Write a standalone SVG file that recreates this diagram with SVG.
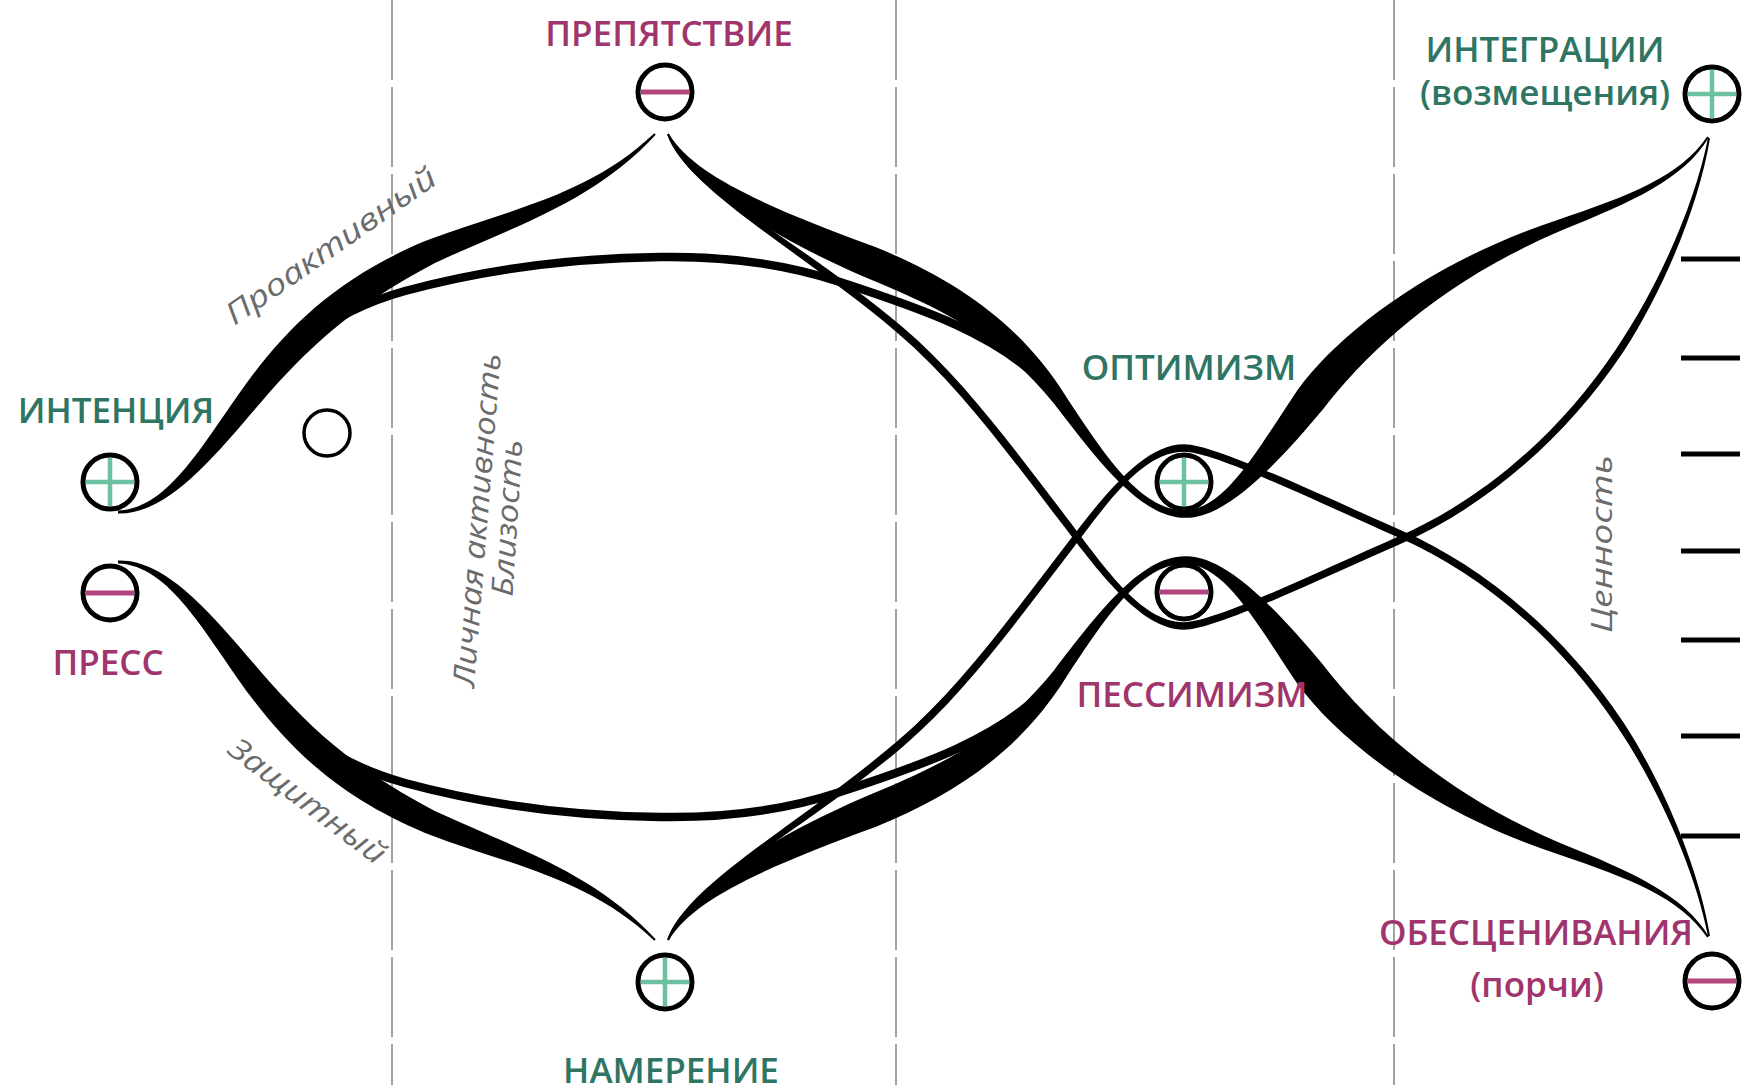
<svg xmlns="http://www.w3.org/2000/svg" width="1742" height="1090" viewBox="0 0 1742 1090">
<style>
 .dash{stroke:#8a8a8a;stroke-width:1.6;stroke-dasharray:80 7;fill:none}
 .tick{stroke:#000;stroke-width:5}
 .blade{fill:#000}
 .arc{fill:none;stroke:#000;stroke-width:8.5;stroke-linecap:round}
 .ring{fill:#fff;stroke:#000;stroke-width:5}
 .ring-s{fill:#fff;stroke:#000;stroke-width:3.5}
 .plus{stroke:#6cc2a0;stroke-width:4.5;fill:none}
 .minus{stroke:#b3457d;stroke-width:5;fill:none}
 .lbl{font-family:"Open Sans","DejaVu Sans",sans-serif;font-weight:600;font-size:35px;text-anchor:middle}
 .g{fill:#2f7563}
 .m{fill:#a0346c}
 .note{font-family:"Open Sans","DejaVu Sans",sans-serif;font-style:italic;font-size:30px;fill:#6b6b6b;text-anchor:middle;dominant-baseline:central}
</style>
<defs>
 <g id="sym-plus"><circle class="ring" r="27"/><path class="plus" d="M-24,0H24M0,-24V24"/></g>
 <g id="sym-minus"><circle class="ring" r="27"/><path class="minus" d="M-24,0H24"/></g>
</defs>
<rect width="1742" height="1090" fill="#fff"/>

<g id="guides">
 <line class="dash" x1="392" y1="0" x2="392" y2="1085"/>
 <line class="dash" x1="896" y1="0" x2="896" y2="1085"/>
 <line class="dash" x1="1394" y1="0" x2="1394" y2="1085"/>
</g>

<g id="scale-ticks">
 <line class="tick" x1="1681" y1="259" x2="1740" y2="259"/>
 <line class="tick" x1="1681" y1="358" x2="1740" y2="358"/>
 <line class="tick" x1="1681" y1="454" x2="1740" y2="454"/>
 <line class="tick" x1="1681" y1="551" x2="1740" y2="551"/>
 <line class="tick" x1="1681" y1="640" x2="1740" y2="640"/>
 <line class="tick" x1="1681" y1="736" x2="1740" y2="736"/>
 <line class="tick" x1="1681" y1="836" x2="1740" y2="836"/>
</g>

<g id="connectors">
 <g id="upper-half">
  <path id="c-intention-obstacle" class="blade" d="M118,510.5 C170,509 205,439.4 250.7,377.5 C293.4,320.5 343.1,275.6 425.1,241.1 C506.5,209.7 587.1,197.2 654.3,133.3 L655.7,134.7 C592.9,202.8 513.5,226.3 434.9,262.9 C356.9,304.4 316.6,339.5 269.3,392.5 C219,450.6 170,515 118,513.5 Z"/>
  <path id="c-fish-upper" class="arc" d="M240,410 C278,362 318,315 405,291 C490,268 580,258 660,257 C720,256 780,262 840,282 C920,308 1000,335 1049,388"/>
  <path id="c-obstacle-optimism-integration" class="blade" d="M668.9,133.6 C692.6,176.1 774.8,209.9 876,247.2 C956.1,280.2 1019.8,323 1065.7,395.9 C1103.7,453.4 1140,510.2 1185,510.2 C1225,509 1255.4,452.8 1297.2,390.4 C1341.4,329.8 1436.1,259.7 1558.1,219.8 C1628.8,195.7 1680.1,176.8 1707.2,136.5 L1708.8,137.5 C1683.9,179.2 1631.2,202.3 1561.9,230.2 C1443.9,280.3 1368.6,350.2 1322.8,409.6 C1274.6,467.2 1225,519 1185,517.8 C1140,517.8 1096.3,458.6 1054.3,404.1 C1000.2,337 943.9,309.8 864,276.8 C765.2,234.1 683.4,179.9 667.1,134.4 Z"/>
  <path id="c-obstacle-pessimism-integration" class="blade" d="M668.7,133.7 C692.3,189.1 802.5,242.1 902.5,327.1 C962.5,378.1 1013,447.7 1063,512.7 C1103,564.7 1140,622.2 1184,622.2 C1215,622.2 1318.5,571.5 1398.5,536.5 C1478.5,501.5 1556.8,437.9 1616.8,347.9 C1657.3,288.2 1695,204.6 1708,137.8 L1710,138.2 C1699,205.4 1662.7,291.8 1623.2,352.1 C1563.2,442.1 1481.5,508.5 1401.5,543.5 C1321.5,578.5 1215,629.8 1184,629.8 C1140,629.8 1097,569.3 1057,517.3 C1007,452.3 957.5,383.9 897.5,332.9 C797.5,247.9 687.7,190.9 667.3,134.3 Z"/>
 </g>
 <use id="lower-half" href="#upper-half" transform="matrix(1 0 0 -1 0 1074)"/>
</g>

<g id="node-intenciya"><use href="#sym-plus" x="110" y="482"/><text class="lbl g" x="116" y="423">ИНТЕНЦИЯ</text></g>
<g id="node-press"><use href="#sym-minus" x="110" y="593"/><text class="lbl m" x="108" y="675">ПРЕСС</text></g>
<g id="node-empty"><circle class="ring-s" cx="327" cy="433" r="23"/></g>
<g id="node-prepyatstvie"><use href="#sym-minus" x="665" y="92"/><text class="lbl m" x="669" y="46">ПРЕПЯТСТВИЕ</text></g>
<g id="node-namerenie"><use href="#sym-plus" x="665" y="982"/><text class="lbl g" x="671" y="1083">НАМЕРЕНИЕ</text></g>
<g id="node-optimizm"><use href="#sym-plus" x="1184" y="482"/><text class="lbl g" x="1189" y="380">ОПТИМИЗМ</text></g>
<g id="node-pessimizm"><use href="#sym-minus" x="1184" y="592"/><text class="lbl m" x="1192" y="707">ПЕССИМИЗМ</text></g>
<g id="node-integracii"><use href="#sym-plus" x="1712" y="94"/><text class="lbl g" x="1545" y="62">ИНТЕГРАЦИИ</text><text class="lbl g" x="1545" y="105">(возмещения)</text></g>
<g id="node-obescenivaniya"><use href="#sym-minus" x="1712" y="981"/><text class="lbl m" x="1536" y="945">ОБЕСЦЕНИВАНИЯ</text><text class="lbl m" x="1537" y="997">(порчи)</text></g>

<g id="notes">
 <text class="note" transform="translate(330,245) rotate(-35)" textLength="250" lengthAdjust="spacingAndGlyphs">Проактивный</text>
 <text class="note" transform="translate(476,520) rotate(-85.4)" textLength="335" lengthAdjust="spacingAndGlyphs">Личная активность</text>
 <text class="note" transform="translate(506,518) rotate(-86.4)" textLength="157" lengthAdjust="spacingAndGlyphs">Близость</text>
 <text class="note" transform="translate(308,800) rotate(37)" textLength="188" lengthAdjust="spacingAndGlyphs">Защитный</text>
 <text class="note" transform="translate(1600,544) rotate(-90)" textLength="178" lengthAdjust="spacingAndGlyphs">Ценность</text>
</g>
</svg>
